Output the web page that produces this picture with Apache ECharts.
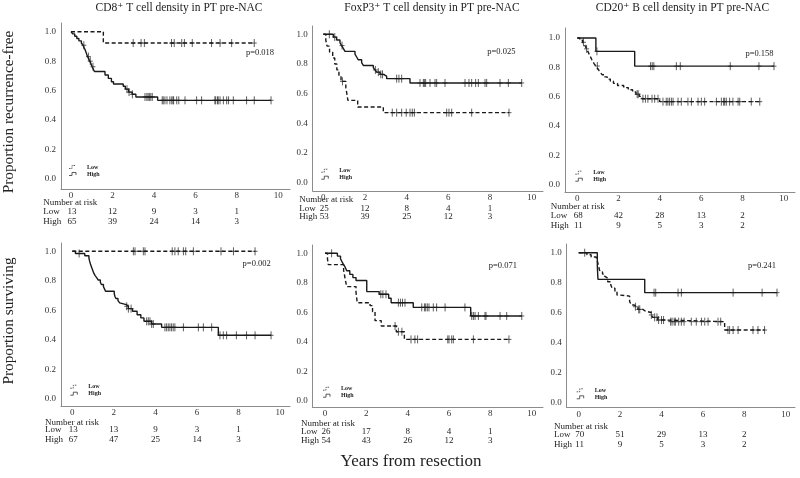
<!DOCTYPE html>
<html>
<head>
<meta charset="utf-8">
<script src="https://cdn.jsdelivr.net/npm/echarts@6/dist/echarts.min.js"></script>
<style>
html, body { margin: 0; padding: 0; background: #fff; }
#main { width: 800px; height: 478px; }
</style>
</head>
<body>
<div id="main"></div>
<script>
/* axes / texts */
var xTicks = [0, 2, 4, 6, 8, 10];
var yTicks = [0, 0.2, 0.4, 0.6, 0.8, 1.0];
var riskTimes = [0, 2, 4, 6, 8];
var titles = ['CD8\u207A T cell density in PT pre-NAC', 'FoxP3\u207A T cell density in PT pre-NAC', 'CD20\u207A B cell density in PT pre-NAC'];
var rowNames = ['Proportion recurrence-free', 'Proportion surviving'];
var xName = 'Years from resection';
var pValues = ['p=0.018', 'p=0.025', 'p=0.158', 'p=0.002', 'p=0.071', 'p=0.241'];
var groupNames = ['Low', 'High'];

/* panel 1 : CD8, recurrence-free */
var cd8RfsLow = [[0, 1], [1.56, 0.923]];
var cd8RfsLowCens = [3.0, 3.38, 3.54, 4.85, 4.98, 5.34, 5.47, 5.85, 6.78, 7.19, 7.75, 8.84];
var cd8RfsHigh = [[0, 1], [0.08, 0.985], [0.18, 0.969], [0.28, 0.954], [0.38, 0.938], [0.5, 0.923], [0.58, 0.908], [0.63, 0.892], [0.68, 0.877], [0.72, 0.862], [0.76, 0.846], [0.8, 0.831], [0.86, 0.815], [0.9, 0.8], [0.96, 0.785], [1.02, 0.762], [1.08, 0.745], [1.13, 0.73], [1.64, 0.706], [1.8, 0.683], [1.95, 0.66], [2.05, 0.645], [2.52, 0.63], [2.62, 0.61], [2.78, 0.59], [2.95, 0.575], [3.13, 0.557], [4.18, 0.534]];
var cd8RfsHighCens = [0.62, 0.84, 0.93, 1.06, 2.7, 2.8, 2.96, 3.57, 3.66, 3.72, 3.78, 3.85, 3.92, 4.4, 4.45, 4.53, 4.63, 4.77, 4.86, 4.92, 4.95, 5.1, 5.2, 5.5, 6.06, 6.3, 6.94, 6.98, 7.07, 7.1, 7.19, 7.35, 7.51, 7.6, 7.83, 8.47, 8.84, 9.65];
var cd8RfsRiskLow = [13, 12, 9, 3, 1];
var cd8RfsRiskHigh = [65, 39, 24, 14, 3];

/* panel 2 : FoxP3, recurrence-free */
var foxRfsLow = [[0, 1], [0.12, 0.96], [0.18, 0.92], [0.3, 0.88], [0.45, 0.84], [0.55, 0.8], [0.65, 0.76], [0.75, 0.72], [0.85, 0.683], [1.08, 0.64], [1.13, 0.6], [1.18, 0.555], [1.65, 0.51], [2.88, 0.472]];
var foxRfsLowCens = [0.92, 3.31, 3.52, 3.76, 3.98, 4.16, 4.27, 4.37, 5.92, 6.03, 6.16, 7.12, 8.91];
var foxRfsHigh = [[0, 1], [0.48, 0.981], [0.64, 0.962], [0.8, 0.943], [0.88, 0.924], [0.96, 0.905], [1.04, 0.885], [1.52, 0.866], [1.6, 0.847], [1.68, 0.828], [1.84, 0.809], [1.92, 0.79], [2.4, 0.775], [2.48, 0.76], [2.56, 0.745], [2.72, 0.73], [2.88, 0.718], [3.04, 0.701], [4.16, 0.672]];
var foxRfsHighCens = [0.29, 0.55, 0.9, 2.5, 2.64, 2.76, 2.84, 3.52, 3.63, 3.76, 4.64, 4.8, 4.85, 4.91, 5.12, 5.36, 5.44, 5.84, 6.8, 6.99, 7.12, 7.31, 7.44, 7.76, 7.84, 8.48, 8.88, 9.52];
var foxRfsRiskLow = [25, 12, 8, 4, 1];
var foxRfsRiskHigh = [53, 39, 25, 12, 3];

/* panel 3 : CD20, recurrence-free */
var cd20RfsLow = [[0, 1], [0.12, 0.985], [0.26, 0.971], [0.34, 0.956], [0.4, 0.941], [0.45, 0.926], [0.5, 0.912], [0.55, 0.897], [0.6, 0.882], [0.65, 0.868], [0.7, 0.853], [0.76, 0.838], [0.82, 0.824], [0.9, 0.809], [0.98, 0.794], [1.05, 0.779], [1.12, 0.765], [1.2, 0.75], [1.33, 0.735], [1.45, 0.72], [1.6, 0.706], [1.75, 0.691], [1.95, 0.676], [2.25, 0.662], [2.47, 0.647], [2.68, 0.632], [2.84, 0.617], [3.0, 0.602], [3.13, 0.586], [3.99, 0.566]];
var cd20RfsLowCens = [0.3, 0.45, 0.97, 2.9, 2.95, 3.18, 3.3, 3.42, 3.62, 3.75, 3.91, 4.15, 4.31, 4.39, 4.47, 4.56, 4.64, 4.88, 5.04, 5.36, 5.53, 5.85, 6.01, 6.17, 6.74, 6.98, 7.09, 7.14, 7.22, 7.38, 7.54, 7.79, 7.87, 8.43, 8.84];
var cd20RfsHigh = [[0, 1], [0.9, 0.909], [2.78, 0.808]];
var cd20RfsHighCens = [0.95, 3.55, 3.63, 3.71, 4.8, 4.99, 7.41, 8.8, 9.53];
var cd20RfsRiskLow = [68, 42, 28, 13, 2];
var cd20RfsRiskHigh = [11, 9, 5, 3, 2];

/* panel 4 : CD8, survival */
var cd8OsLow = [[0, 1]];
var cd8OsLowCens = [2.94, 3.02, 3.42, 3.5, 4.81, 4.94, 5.1, 5.35, 5.46, 5.83, 7.16, 7.76, 8.8];
var cd8OsHigh = [[0, 1], [0.15, 0.985], [0.6, 0.97], [0.8, 0.955], [0.82, 0.94], [0.85, 0.925], [0.88, 0.91], [0.92, 0.895], [0.96, 0.88], [1.0, 0.865], [1.04, 0.85], [1.1, 0.835], [1.18, 0.82], [1.25, 0.805], [1.35, 0.79], [1.4, 0.775], [1.5, 0.76], [1.55, 0.745], [1.6, 0.729], [2.02, 0.712], [2.05, 0.695], [2.1, 0.68], [2.2, 0.665], [2.28, 0.65], [2.35, 0.638], [2.6, 0.627], [2.7, 0.611], [2.9, 0.593], [3.12, 0.57], [3.3, 0.548], [3.45, 0.525], [3.82, 0.507], [4.3, 0.484], [7.03, 0.43]];
var cd8OsHighCens = [0.33, 2.62, 2.7, 2.83, 3.58, 3.66, 3.74, 3.82, 3.9, 4.46, 4.54, 4.62, 4.7, 4.78, 4.86, 4.94, 5.35, 6.07, 6.31, 6.71, 7.11, 7.27, 7.43, 7.9, 8.39, 8.8, 9.57];
var cd8OsRiskLow = [13, 13, 9, 3, 1];
var cd8OsRiskHigh = [67, 47, 25, 14, 3];

/* panel 5 : FoxP3, survival */
var foxOsLow = [[0, 1], [0.12, 0.962], [0.16, 0.923], [0.9, 0.885], [0.95, 0.846], [1.0, 0.808], [1.05, 0.774], [1.5, 0.735], [1.53, 0.7], [1.56, 0.665], [2.18, 0.645], [2.3, 0.605], [2.42, 0.543], [2.72, 0.507], [3.45, 0.468], [3.84, 0.416]];
var foxOsLowCens = [3.39, 3.55, 3.72, 4.16, 4.35, 4.48, 5.94, 6.0, 6.13, 6.21, 7.18, 8.9];
var foxOsHigh = [[0, 1], [0.6, 0.981], [0.75, 0.963], [0.82, 0.944], [0.88, 0.928], [0.96, 0.91], [1.05, 0.882], [1.2, 0.857], [1.35, 0.835], [1.5, 0.815], [2.02, 0.74], [2.62, 0.722], [3.08, 0.695], [3.2, 0.665], [4.27, 0.633], [7.05, 0.575]];
var foxOsHighCens = [0.32, 2.7, 2.8, 2.95, 3.55, 3.65, 3.75, 3.87, 4.68, 4.81, 4.87, 4.95, 5.03, 5.24, 5.4, 5.81, 6.77, 7.1, 7.18, 7.26, 7.42, 7.74, 7.79, 8.47, 8.79, 9.52];
var foxOsRiskLow = [26, 17, 8, 4, 1];
var foxOsRiskHigh = [54, 43, 26, 12, 3];

/* panel 6 : CD20, survival */
var cd20OsLow = [[0, 1], [0.4, 0.986], [0.6, 0.971], [0.85, 0.957], [0.9, 0.943], [0.93, 0.929], [0.95, 0.914], [0.98, 0.9], [1.0, 0.886], [1.05, 0.871], [1.15, 0.857], [1.25, 0.843], [1.3, 0.83], [1.4, 0.806], [1.55, 0.784], [1.62, 0.762], [1.75, 0.74], [1.85, 0.717], [1.95, 0.71], [2.46, 0.673], [2.55, 0.65], [2.68, 0.639], [2.86, 0.621], [3.1, 0.61], [3.21, 0.6], [3.5, 0.584], [3.58, 0.568], [3.82, 0.55], [4.15, 0.539], [7.05, 0.483]];
var cd20OsLowCens = [0.29, 2.74, 2.9, 2.95, 3.51, 3.67, 3.78, 3.86, 4.0, 4.1, 4.44, 4.51, 4.61, 4.67, 4.83, 4.96, 5.09, 5.44, 5.68, 5.93, 6.09, 6.25, 6.73, 6.86, 7.21, 7.29, 7.46, 7.7, 8.42, 8.66, 8.98];
var cd20OsHigh = [[0, 1], [0.9, 0.909], [0.93, 0.822], [3.19, 0.733]];
var cd20OsHighCens = [3.64, 3.72, 4.8, 4.96, 7.46, 8.86, 9.58];
var cd20OsRiskLow = [70, 51, 29, 13, 2];
var cd20OsRiskHigh = [11, 9, 5, 3, 2];

var curves = [
    [cd8RfsLow, cd8RfsLowCens, cd8RfsHigh, cd8RfsHighCens, cd8RfsRiskLow, cd8RfsRiskHigh],
    [foxRfsLow, foxRfsLowCens, foxRfsHigh, foxRfsHighCens, foxRfsRiskLow, foxRfsRiskHigh],
    [cd20RfsLow, cd20RfsLowCens, cd20RfsHigh, cd20RfsHighCens, cd20RfsRiskLow, cd20RfsRiskHigh],
    [cd8OsLow, cd8OsLowCens, cd8OsHigh, cd8OsHighCens, cd8OsRiskLow, cd8OsRiskHigh],
    [foxOsLow, foxOsLowCens, foxOsHigh, foxOsHighCens, foxOsRiskLow, foxOsRiskHigh],
    [cd20OsLow, cd20OsLowCens, cd20OsHigh, cd20OsHighCens, cd20OsRiskLow, cd20OsRiskHigh]
];

/* pixel layout of each panel (axis corner, where 0/10 and 0/1 fall, risk table rows) */
var layout = [
    {L: 61, X0: 71, X10: 278.3, T: 23, Y1: 31.7, Y0: 179, B: 189, R: 290, tx: 43.3, rows: [202.3, 212, 221.3], p: [260, 52.3]},
    {L: 312.7, X0: 323.3, X10: 531.7, T: 26, Y1: 34.3, Y0: 182.7, B: 191, R: 543, tx: 299.3, rows: [199.3, 208.3, 216.7], p: [501.3, 51.3]},
    {L: 565, X0: 577.3, X10: 783.7, T: 28, Y1: 38, Y0: 184.7, B: 192, R: 795, tx: 550.7, rows: [206.7, 216, 225.7], p: [759.5, 54]},
    {L: 61, X0: 72.3, X10: 280, T: 243, Y1: 251.3, Y0: 398.7, B: 406.5, R: 290, tx: 45, rows: [422.3, 430, 439.3], p: [256.7, 264]},
    {L: 312.7, X0: 325, X10: 531.7, T: 245, Y1: 253.3, Y0: 400.7, B: 407.5, R: 543, tx: 301, rows: [423.3, 431.7, 441], p: [502.8, 266]},
    {L: 566.7, X0: 578.7, X10: 785.7, T: 244, Y1: 252.7, Y0: 402.3, B: 407.7, R: 795, tx: 554, rows: [426.7, 435, 445], p: [762, 266]}
];
var titlePos = [[179, 8], [432, 8], [682.5, 8]];

var SERIF = '"Liberation Serif", "Times New Roman", "DejaVu Serif", serif';
var INK = '#1a1a1a';

function survAt(curve, t) {
    var s = curve[0][1];
    for (var k = 0; k < curve.length; ++k) {
        if (curve[k][0] <= t) s = curve[k][1];
    }
    return s;
}
function lineData(curve, cens) {
    var d = curve.slice();
    var last = d[d.length - 1];
    var tmax = Math.max.apply(null, cens);
    if (tmax > last[0]) d.push([tmax, last[1]]);
    return d;
}
function censData(curve, cens) {
    var d = [];
    for (var k = 0; k < cens.length; ++k) d.push([cens[k], survAt(curve, cens[k])]);
    return d;
}
function censorItem(params, api) {
    var p = api.coord([api.value(0), api.value(1)]);
    return {
        type: 'group',
        children: [
            {type: 'line', shape: {x1: p[0], y1: p[1] - 4, x2: p[0], y2: p[1] + 4}, style: {stroke: '#333', lineWidth: 0.8}},
            {type: 'line', shape: {x1: p[0] - 2.5, y1: p[1], x2: p[0] + 2.5, y2: p[1]}, style: {stroke: '#333', lineWidth: 0.8}}
        ]
    };
}

var grids = [], xAxes = [], yAxes = [], series = [];
for (var i = 0; i < 6; ++i) {
    var g = layout[i];
    var pxX = (g.X10 - g.X0) / 10;
    var pxY = g.Y0 - g.Y1;
    grids.push({left: g.L, top: g.T, width: g.R - g.L, height: g.B - g.T});
    xAxes.push({
        type: 'value', gridIndex: i,
        min: -(g.X0 - g.L) / pxX, max: (g.R - g.X0) / pxX,
        axisLine: {show: true, onZero: false, lineStyle: {color: '#8c8c8c', width: 1}},
        axisTick: {show: false}, splitLine: {show: false},
        axisLabel: {customValues: xTicks, margin: 2, fontFamily: SERIF, fontSize: 9, color: '#333'}
    });
    yAxes.push({
        type: 'value', gridIndex: i,
        min: -(g.B - g.Y0) / pxY, max: 1 + (g.Y1 - g.T) / pxY,
        axisLine: {show: true, onZero: false, lineStyle: {color: '#8c8c8c', width: 1}},
        axisTick: {show: false}, splitLine: {show: false},
        axisLabel: {customValues: yTicks, margin: 5, fontFamily: SERIF, fontSize: 9, color: '#333',
            formatter: function (v) { return v.toFixed(1); }}
    });
    var c = curves[i];
    series.push({
        type: 'line', xAxisIndex: i, yAxisIndex: i, step: 'end', symbol: 'none',
        data: lineData(c[0], c[1]),
        lineStyle: {color: INK, width: 1.4, type: [4, 2.5]}
    });
    series.push({
        type: 'line', xAxisIndex: i, yAxisIndex: i, step: 'end', symbol: 'none',
        data: lineData(c[2], c[3]),
        lineStyle: {color: INK, width: 1.4, type: 'solid'}
    });
    series.push({type: 'custom', xAxisIndex: i, yAxisIndex: i, renderItem: censorItem, data: censData(c[0], c[1])});
    series.push({type: 'custom', xAxisIndex: i, yAxisIndex: i, renderItem: censorItem, data: censData(c[2], c[3])});
}

var chart = echarts.init(document.getElementById('main'), null, {renderer: 'canvas'});
chart.setOption({
    backgroundColor: '#fff',
    animation: false,
    grid: grids,
    xAxis: xAxes,
    yAxis: yAxes,
    series: series
});

function txt(x, y, s, font, align, extra) {
    var e = {
        type: 'text', x: x, y: y, silent: true,
        style: {text: s, fill: '#222', font: font + ' ' + SERIF, textAlign: align || 'left', align: align || 'left',
            textVerticalAlign: 'middle', verticalAlign: 'middle'}
    };
    if (extra) for (var k in extra) e[k] = extra[k];
    return e;
}

var graphics = [];
for (var j = 0; j < 3; ++j) {
    graphics.push(txt(titlePos[j][0], titlePos[j][1], titles[j], '11.5px', 'center'));
}
graphics.push(txt(9, 112, rowNames[0], '15.3px', 'center', {rotation: Math.PI / 2}));
graphics.push(txt(9, 321, rowNames[1], '15.3px', 'center', {rotation: Math.PI / 2}));
graphics.push(txt(411, 462, xName, '17px', 'center'));

for (var i = 0; i < 6; ++i) {
    var g = layout[i];
    var c = curves[i];
    graphics.push(txt(g.p[0], g.p[1], pValues[i], '8.5px', 'center'));
    // risk table
    graphics.push(txt(g.tx, g.rows[0], 'Number at risk', '9px', 'left'));
    graphics.push(txt(g.tx, g.rows[1], groupNames[0], '9px', 'left'));
    graphics.push(txt(g.tx, g.rows[2], groupNames[1], '9px', 'left'));
    for (var k = 0; k < riskTimes.length; ++k) {
        var px = chart.convertToPixel({xAxisIndex: i}, riskTimes[k]);
        if (k === 0) px += 1;
        graphics.push(txt(px, g.rows[1], String(c[4][k]), '9px', 'center'));
        graphics.push(txt(px, g.rows[2], String(c[5][k]), '9px', 'center'));
    }
    // legend
    var gx = g.X0 - 2, yl = g.Y0 - 12, yh = g.Y0 - 5;
    graphics.push({type: 'polyline', silent: true,
        shape: {points: [[gx, yl + 1.5], [gx + 3, yl + 1.5], [gx + 3, yl - 1.5], [gx + 7, yl - 1.5]]},
        style: {stroke: '#333', lineWidth: 0.8, fill: 'none', lineDash: [1.5, 1]}});
    graphics.push({type: 'polyline', silent: true,
        shape: {points: [[gx, yh + 1.5], [gx + 3, yh + 1.5], [gx + 3, yh - 1.5], [gx + 7, yh - 1.5], [gx + 7, yh + 1]]},
        style: {stroke: '#333', lineWidth: 0.8, fill: 'none'}});
    graphics.push(txt(g.X0 + 16, yl, groupNames[0], 'bold 6px', 'left'));
    graphics.push(txt(g.X0 + 16, yh, groupNames[1], 'bold 6px', 'left'));
}
chart.setOption({graphic: graphics});
</script>
</body>
</html>
